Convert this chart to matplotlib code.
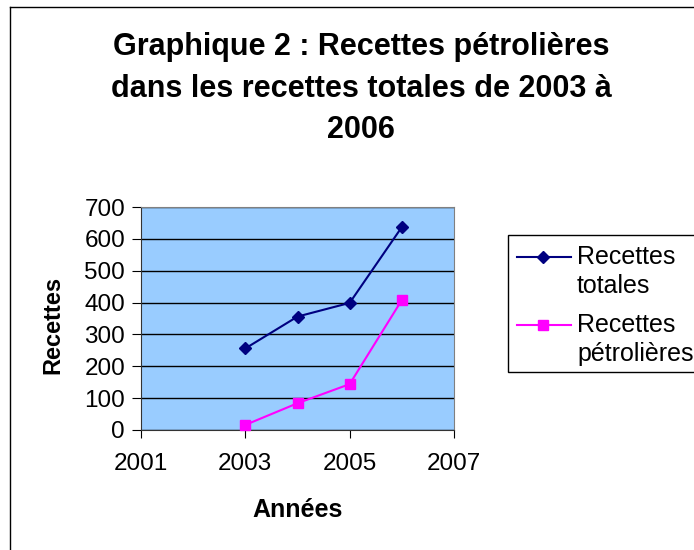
import matplotlib
matplotlib.use('Agg')
import matplotlib.pyplot as plt
from matplotlib.lines import Line2D
from matplotlib.patches import Rectangle

plt.rcParams['font.family'] = ['Liberation Sans', 'DejaVu Sans']

# ----------------------------------------------------------------------------------------------------
# データ
# ----------------------------------------------------------------------------------------------------
annees = [2003, 2004, 2005, 2006]
recettes_totales = [256, 356, 399, 637]
recettes_petrolieres = [16, 84, 144, 408]
x_ticks = [2001, 2003, 2005, 2007]
y_ticks = [0, 100, 200, 300, 400, 500, 600, 700]

series_labels = ['Recettes\ntotales', 'Recettes\npétrolières']
series_colors = ['#000080', '#FF00FF']
series_markers = ['D', 's']

titre = 'Graphique 2 : Recettes pétrolières\ndans les recettes totales de 2003 à\n2006'

# ----------------------------------------------------------------------------------------------------
# グラフ描画
# ----------------------------------------------------------------------------------------------------
W, H = 694, 550
fig = plt.figure(figsize=(W / 100, H / 100), dpi=100)

def fx(px):
    return px / W

def fy(py):
    return 1 - py / H

# cadre du graphique
fig.add_artist(Line2D([fx(10), 1], [fy(7), fy(7)], color='black', lw=1))
fig.add_artist(Line2D([fx(10), fx(10)], [0, fy(7)], color='black', lw=1))

ax = fig.add_axes([fx(141), fy(430), 313 / W, 223 / H])
ax.set_facecolor('#99CCFF')

lines = []
for values, lab, col, mk, ms in zip([recettes_totales, recettes_petrolieres], series_labels,
                                     series_colors, series_markers, [6.5, 7]):
    ln, = ax.plot(annees, values, color=col, lw=1.5, marker=mk, markersize=ms,
                  label=lab, zorder=3, clip_on=False)
    lines.append(ln)

ax.set_xlim(2001, 2007)
ax.set_ylim(0, 700)
ax.set_xticks(x_ticks)
ax.set_yticks(y_ticks)
ax.grid(True, axis='y', color='black', lw=1)
ax.set_axisbelow(True)
ax.tick_params(axis='both', labelsize=17.5, direction='out', color='black')
ax.tick_params(axis='y', length=6.5, pad=5)
ax.tick_params(axis='x', length=5.5, pad=11)

for s in ['top', 'right']:
    ax.spines[s].set_color('#808080')
for s in ['left', 'bottom']:
    ax.spines[s].set_color('#333333')

fig.text(fx(53), fy(325), 'Recettes', rotation=90, fontsize=17, fontweight='bold',
         ha='center', va='center')
fig.text(fx(298), fy(510), 'Années', fontsize=18, fontweight='bold',
         ha='center', va='center')

# va='baseline' : ligne de base de la dernière ligne
fig.text(fx(361), fy(138), titre, fontsize=22, fontweight='bold',
         ha='center', va='baseline', linespacing=1.5)

# légende (marqueur aligné sur la première ligne, comme dans Excel)
fig.add_artist(Rectangle((fx(508), fy(372)), 1 - fx(508) + 0.01, (372 - 235) / H,
                         transform=fig.transFigure, facecolor='white', edgecolor='black',
                         lw=1))
for ln, y_mark, y_base in zip(lines, [257, 325], [293, 361]):
    fig.add_artist(Line2D([fx(517), fx(571)], [fy(y_mark), fy(y_mark)], color=ln.get_color(),
                          lw=1.5))
    fig.add_artist(Line2D([fx(543)], [fy(y_mark)], color=ln.get_color(),
                          marker=ln.get_marker(), markersize=ln.get_markersize(), lw=0))
    fig.text(fx(577), fy(y_base), ln.get_label(), fontsize=18, ha='left', va='baseline',
             linespacing=1.28)

plt.savefig('out.png', dpi=100)
plt.close(fig)
